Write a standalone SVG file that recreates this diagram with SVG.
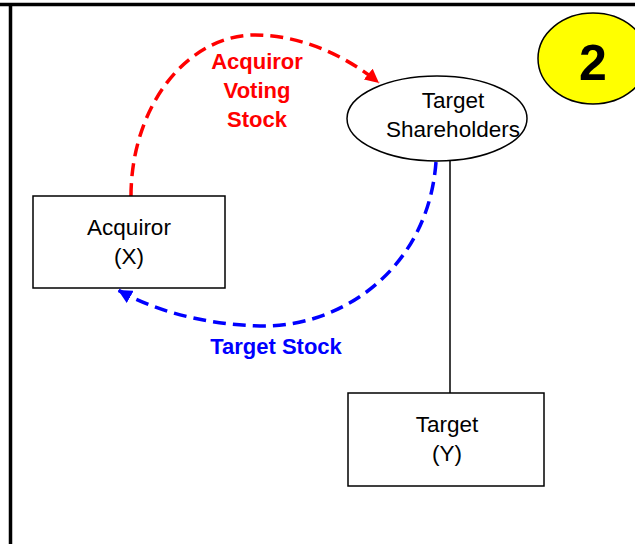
<svg xmlns="http://www.w3.org/2000/svg" width="635" height="544" viewBox="0 0 635 544">
<defs>
<style>
.node{fill:#fff;stroke:#000;stroke-width:1.5}
.lbl{font-family:"Liberation Sans",Arial,sans-serif;font-size:22.5px;fill:#000;text-anchor:middle}
.blbl{font-family:"Liberation Sans",Arial,sans-serif;font-size:22px;font-weight:bold;text-anchor:middle}
.dash{fill:none;stroke-width:3.5;stroke-dasharray:13 7}
</style>
<marker id="arrRed" markerUnits="userSpaceOnUse" markerWidth="16" markerHeight="14" refX="14" refY="7" orient="auto">
<path d="M0,0 L14,7 L0,14 Z" fill="#ff0000"/>
</marker>
<marker id="arrBlue" markerUnits="userSpaceOnUse" markerWidth="16" markerHeight="14" refX="14" refY="7" orient="auto">
<path d="M0,0 L14,7 L0,14 Z" fill="#0000ff"/>
</marker>
</defs>
<rect width="635" height="544" fill="#fff"/>
<g id="frame">
<line x1="0" y1="4.5" x2="635" y2="4.5" stroke="#000" stroke-width="3.5"/>
<line x1="10.5" y1="4" x2="10.5" y2="544" stroke="#000" stroke-width="3.5"/>
</g>
<g id="badge">
<ellipse cx="593" cy="58.5" rx="55" ry="45.5" fill="#ffff00" stroke="#000" stroke-width="1.5"/>
<text x="593" y="80" font-family="'Liberation Sans',Arial,sans-serif" font-size="50" font-weight="bold" text-anchor="middle">2</text>
</g>
<g id="connectors">
<line x1="450" y1="161" x2="450" y2="393" stroke="#000" stroke-width="1.5"/>
<path class="dash" stroke="#ff0000" d="M131,196 A124,161 0 0 1 255,35 C300,35 345,55 379,83" marker-end="url(#arrRed)"/>
<path class="dash" stroke="#0000ff" d="M436,162 C428,270 340,328 260,326 C195,324 148,307 118,290" marker-end="url(#arrBlue)"/>
<text class="blbl" fill="#ff0000" x="257" y="69">Acquiror</text>
<text class="blbl" fill="#ff0000" x="257" y="98">Voting</text>
<text class="blbl" fill="#ff0000" x="257" y="127">Stock</text>
<text class="blbl" fill="#0000ff" x="276" y="354">Target Stock</text>
</g>
<g id="target-shareholders">
<ellipse class="node" cx="437" cy="118.5" rx="90" ry="42.5"/>
<text class="lbl" x="453" y="108">Target</text>
<text class="lbl" x="453" y="137">Shareholders</text>
</g>
<g id="acquiror">
<rect class="node" x="33" y="196" width="192" height="92"/>
<text class="lbl" x="129" y="235">Acquiror</text>
<text class="lbl" x="129" y="264">(X)</text>
</g>
<g id="target">
<rect class="node" x="348" y="393" width="196" height="93"/>
<text class="lbl" x="447" y="432">Target</text>
<text class="lbl" x="447" y="461">(Y)</text>
</g>
</svg>
